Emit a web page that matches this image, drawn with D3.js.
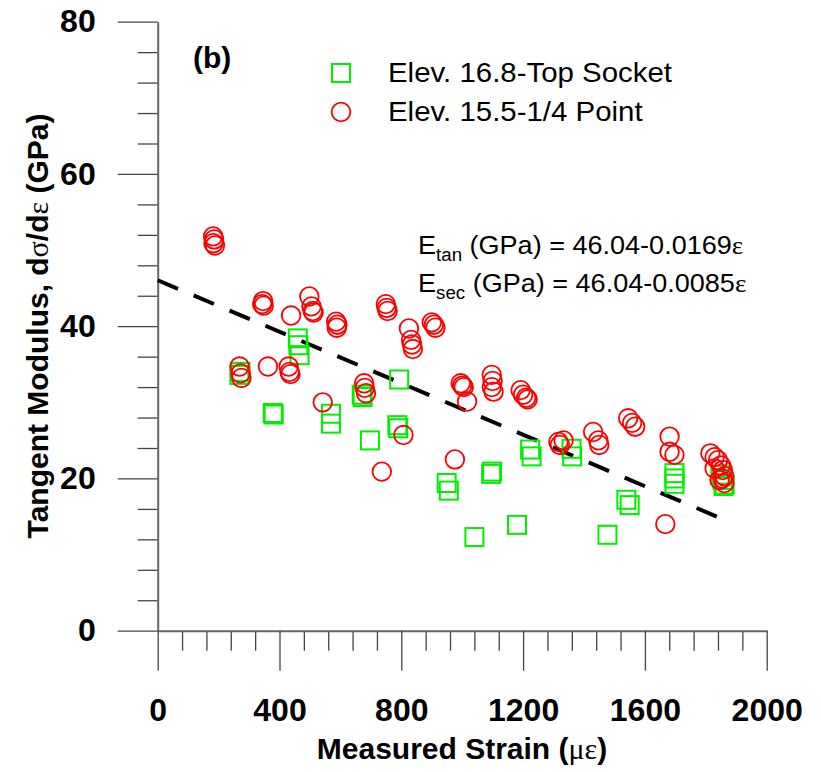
<!DOCTYPE html>
<html>
<head>
<meta charset="utf-8">
<script src="https://cdn.jsdelivr.net/npm/d3@7"></script>
<style>
  body { margin: 0; background: #fff; }
  text { font-family: "Liberation Sans", Arial, sans-serif; }
  .greek { font-family: "Liberation Serif", "Times New Roman", serif; font-weight: normal; }
</style>
</head>
<body>
<svg id="chart" width="821" height="772"></svg>
<script>
// Elev. 16.8 - Top Socket  [strain (µε), tangent modulus (GPa)]
const topSocket = [
  [272, 34.0], [268, 33.6], [460, 38.4], [462, 37.5], [466, 36.2],
  [381, 28.4], [378, 28.6], [569, 28.5], [569, 27.2], [673, 30.7], [670, 31.0],
  [793, 33.0], [787, 27.0], [790, 26.6], [697, 25.0], [949, 19.4], [956, 18.4],
  [1040, 12.3], [1098, 20.9], [1095, 20.6], [1180, 13.9], [1223, 23.8], [1228, 22.9],
  [1359, 23.9], [1361, 22.9], [1539, 17.2], [1550, 16.5], [1477, 12.6],
  [1697, 20.7], [1697, 20.0], [1697, 19.3], [1848, 20.5], [1855, 19.8],
  [1858, 19.0], [1862, 19.2]
];

// Elev. 15.5 - 1/4 Point
const quarterPoint = [
  [182, 51.8], [185, 51.4], [183, 50.9], [188, 50.6],
  [346, 43.3], [343, 42.9], [348, 42.7], [438, 41.4], [498, 43.9],
  [505, 42.6], [509, 42.0], [512, 41.8], [586, 40.6], [590, 40.2], [588, 39.8],
  [749, 42.9], [752, 42.4], [755, 42.0], [825, 39.7], [832, 38.2], [835, 37.6], [838, 37.0],
  [900, 40.5], [907, 40.2], [912, 39.8], [269, 34.7], [272, 33.8], [275, 33.2],
  [362, 34.7], [430, 34.7], [433, 34.0], [436, 33.7], [542, 30.0],
  [678, 32.5], [680, 31.9], [684, 31.2], [807, 25.7], [736, 20.9], [976, 22.5],
  [995, 32.5], [1000, 32.2], [1005, 32.0], [1016, 30.1],
  [1097, 33.6], [1100, 32.8], [1097, 32.0], [1103, 31.4],
  [1192, 31.6], [1200, 31.0], [1210, 30.6], [1215, 30.4],
  [1316, 24.8], [1333, 25.0], [1321, 24.4], [1430, 26.1], [1447, 25.0], [1450, 24.4],
  [1545, 27.9], [1558, 27.3], [1568, 26.8], [1667, 14.0],
  [1681, 25.5], [1681, 23.5], [1697, 23.1],
  [1815, 23.3], [1829, 22.8], [1840, 22.4], [1850, 21.7], [1829, 21.3], [1856, 21.1],
  [1861, 20.3], [1861, 19.4], [1845, 19.8], [1855, 20.0]
];

// fitted line E_tan = 46.04 - 0.0169 e, end points as drawn
const fitLine = [[0, 46.04], [1865, 14.5]];

const xMajor = [0, 400, 800, 1200, 1600, 2000];
const yMajor = [0, 20, 40, 60, 80];

const svg = d3.select('#chart');

const x = d3.scaleLinear().domain([0, 2000]).range([157.7, 766.7]);
const y = d3.scaleLinear().domain([0, 80]).range([630.7, 21.7]);

const axisColor = '#444';

// minor ticks
svg.append('g')
  .attr('transform', 'translate(0,' + y(0) + ')')
  .call(d3.axisBottom(x).tickValues(d3.range(0, 2001, 80).filter(v => v % 400)).tickSize(20).tickSizeOuter(0).tickFormat(''))
  .call(g => g.select('.domain').remove());
svg.append('g')
  .attr('transform', 'translate(' + x(0) + ',0)')
  .call(d3.axisLeft(y).tickValues(d3.range(0, 81, 4).filter(v => v % 20)).tickSize(20).tickSizeOuter(0).tickFormat(''))
  .call(g => g.select('.domain').remove());

// major ticks + axis lines
const xAxis = svg.append('g')
  .attr('transform', 'translate(0,' + y(0) + ')')
  .call(d3.axisBottom(x).tickValues(xMajor).tickSize(40).tickSizeOuter(0).tickPadding(28).tickFormat(d3.format('d')));
const yAxis = svg.append('g')
  .attr('transform', 'translate(' + x(0) + ',0)')
  .call(d3.axisLeft(y).tickValues(yMajor).tickSize(40).tickSizeOuter(0).tickPadding(22).tickFormat(d3.format('d')));

svg.selectAll('.tick line').attr('stroke', axisColor).attr('stroke-width', 1.3);
svg.selectAll('.domain').attr('stroke', '#666').attr('stroke-width', 2);
[xAxis, yAxis].forEach(g => g.selectAll('text')
  .attr('fill', '#000')
  .style('font-family', '"Liberation Sans", Arial, sans-serif')
  .style('font-size', '32px')
  .style('font-weight', 'bold'));

// fit line
svg.append('path')
  .datum(fitLine)
  .attr('d', d3.line().x(d => x(d[0])).y(d => y(d[1])))
  .attr('fill', 'none')
  .attr('stroke', '#000')
  .attr('stroke-width', 4)
  .attr('stroke-dasharray', '22,17');

// markers
const side = 18;
svg.append('g').selectAll('rect')
  .data(topSocket)
  .enter()
  .append('rect')
  .attr('x', d => x(d[0]) - side / 2)
  .attr('y', d => y(d[1]) - side / 2)
  .attr('width', side)
  .attr('height', side)
  .attr('fill', 'none')
  .attr('stroke', '#00ee00')
  .attr('stroke-width', 2);

svg.append('g').selectAll('circle')
  .data(quarterPoint)
  .enter()
  .append('circle')
  .attr('cx', d => x(d[0]))
  .attr('cy', d => y(d[1]))
  .attr('r', 9.3)
  .attr('fill', 'none')
  .attr('stroke', '#ff0000')
  .attr('stroke-width', 1.8);

// panel tag
svg.append('text').attr('x', 193).attr('y', 68)
  .style('font-size', '30px').style('font-weight', 'bold').text('(b)');

// legend (text slightly stretched like the original)
svg.append('rect').attr('x', 332).attr('y', 64).attr('width', side).attr('height', side)
  .attr('fill', 'none').attr('stroke', '#00ee00').attr('stroke-width', 2);
svg.append('text').attr('transform', 'translate(388,82) scale(1.09,1)')
  .style('font-size', '27px').text('Elev. 16.8-Top Socket');
svg.append('circle').attr('cx', 341).attr('cy', 112).attr('r', 9.3)
  .attr('fill', 'none').attr('stroke', '#ff0000').attr('stroke-width', 1.8);
svg.append('text').attr('transform', 'translate(388,121) scale(1.09,1)')
  .style('font-size', '27px').text('Elev. 15.5-1/4 Point');

// equations
const eq = [['tan', '46.04-0.0169', 254], ['sec', '46.04-0.0085', 292]];
eq.forEach(e => {
  const t = svg.append('text').attr('transform', 'translate(418,' + e[2] + ') scale(1.04,1)')
    .style('font-size', '26px');
  t.append('tspan').text('E');
  t.append('tspan').attr('dy', 7).style('font-size', '18px').text(e[0]);
  t.append('tspan').attr('dy', -7).text(' (GPa) = ' + e[1]);
  t.append('tspan').attr('class', 'greek').text('ε');
});

// axis titles
const xt = svg.append('text').attr('x', 462).attr('y', 759)
  .attr('text-anchor', 'middle').style('font-size', '30px').style('font-weight', 'bold');
xt.append('tspan').text('Measured Strain (');
xt.append('tspan').attr('class', 'greek').text('με');
xt.append('tspan').text(')');

const yt = svg.append('text').attr('transform', 'translate(48,326) rotate(-90)')
  .attr('text-anchor', 'middle').style('font-size', '30px').style('font-weight', 'bold');
yt.append('tspan').text('Tangent Modulus, d');
yt.append('tspan').attr('class', 'greek').text('σ');
yt.append('tspan').text('/d');
yt.append('tspan').attr('class', 'greek').text('ε');
yt.append('tspan').text(' (GPa)');
</script>
</body>
</html>
